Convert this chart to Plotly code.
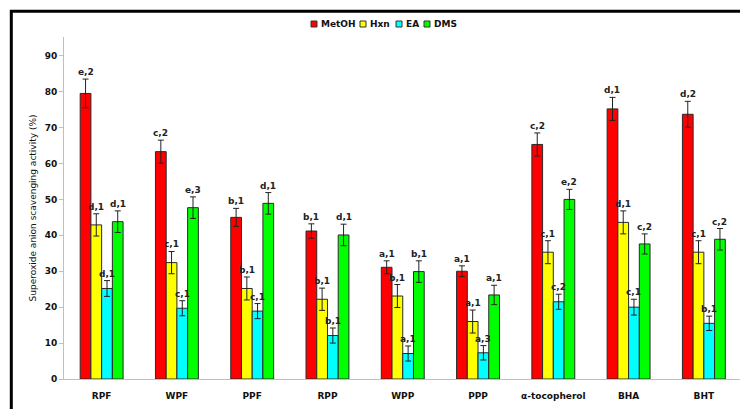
import plotly.graph_objects as go

categories = ["RPF", "WPF", "PPF", "RPP", "WPP", "PPP", "α-tocopherol", "BHA", "BHT"]
series_names = ["MetOH", "Hxn", "EA", "DMS"]
colors = ["#FF0000", "#FFFF00", "#00FFFF", "#00FF00"]

metoh = [79.5, 63.3, 45.0, 41.2, 31.1, 30.0, 65.3, 75.2, 73.7]
hxn = [42.9, 32.4, 25.2, 22.2, 23.1, 16.0, 35.3, 43.6, 35.3]
ea = [25.2, 19.7, 18.9, 12.1, 7.1, 7.3, 21.5, 20.0, 15.5]
dms = [43.8, 47.7, 48.9, 40.1, 29.9, 23.4, 50.0, 37.6, 38.9]

metoh_err = [4.0, 3.2, 2.5, 2.0, 1.8, 1.5, 3.2, 3.2, 3.6]
hxn_err = [3.1, 3.1, 3.2, 3.1, 3.2, 3.2, 3.2, 3.2, 3.2]
ea_err = [2.2, 2.1, 2.1, 2.1, 2.1, 2.0, 2.1, 2.2, 2.0]
dms_err = [3.0, 3.0, 3.0, 3.0, 3.0, 2.7, 2.8, 2.8, 3.0]

metoh_lbl = ["e,2", "c,2", "b,1", "b,1", "a,1", "a,1", "c,2", "d,1", "d,2"]
hxn_lbl = ["d,1", "c,1", "b,1", "b,1", "b,1", "a,1", "c,1", "d,1", "c,1"]
ea_lbl = ["d,1", "c,1", "c,1", "b,1", "a,1", "a,3", "c,2", "c,1", "b,1"]
dms_lbl = ["d,1", "e,3", "d,1", "d,1", "b,1", "a,1", "e,2", "c,2", "c,2"]

values = [metoh, hxn, ea, dms]
errors = [metoh_err, hxn_err, ea_err, dms_err]
labels = [metoh_lbl, hxn_lbl, ea_lbl, dms_lbl]

FONT = "DejaVu Sans"
W, H = 740, 409
L, R, T, B = 64, 0, 37, 30
PW, PH = W - L - R, H - T - B


def px_x(px):
    return (px - L) / PW


def px_y(py):
    return (H - B - py) / PH


fig = go.Figure()
for name, col, vals, errs in zip(series_names, colors, values, errors):
    fig.add_trace(go.Bar(
        x=categories, y=vals, name=name,
        marker=dict(color=col, line=dict(color="#2a2a2a", width=1)),
        error_y=dict(type="data", array=errs, visible=True,
                     color="#222222", thickness=1, width=3),
        showlegend=False,
    ))

annotations = []
bar_w = 0.57 * PW / 8.98 / 4
for i, (vals, errs, lbls) in enumerate(zip(values, errors, labels)):
    shift = (i - 1.5) * bar_w
    for c, v, e, t in zip(categories, vals, errs, lbls):
        annotations.append(dict(
            x=c, y=v + e, text=t, xref="x", yref="y",
            showarrow=False, yanchor="bottom", xanchor="center",
            xshift=shift, yshift=0,
            font=dict(family=FONT, size=9, color="#222222", weight="bold"),
        ))

# manual legend
shapes = []
leg_items = [(311, 319), (360, 368), (396, 404), (424, 432)]
for (sq, tx), name, col in zip(leg_items, series_names, colors):
    shapes.append(dict(type="rect", xref="paper", yref="paper",
                       x0=px_x(sq), x1=px_x(sq + 6), y0=px_y(27), y1=px_y(21),
                       fillcolor=col, line=dict(color="#333333", width=1)))
    annotations.append(dict(
        x=px_x(tx), y=px_y(24), xref="paper", yref="paper", text=name,
        showarrow=False, xanchor="left", yanchor="middle",
        font=dict(family=FONT, size=9, color="#111111", weight="bold"),
    ))

# outer frame (left and top visible)
shapes.append(dict(type="rect", xref="paper", yref="paper",
                   x0=px_x(11.3), x1=px_x(800), y0=px_y(460), y1=px_y(11.2),
                   line=dict(color="black", width=3), fillcolor="rgba(0,0,0,0)",
                   layer="above"))

fig.update_layout(
    width=W, height=H,
    margin=dict(l=L, r=R, t=T, b=B, pad=0),
    paper_bgcolor="white", plot_bgcolor="white",
    barmode="group", bargap=0.43, bargroupgap=0,
    font=dict(family=FONT, size=9, color="#111111"),
    xaxis=dict(
        range=[-0.5, 8.48], showgrid=False, showline=True,
        linecolor="#BFBFBF", linewidth=1, ticks="",
        tickfont=dict(family=FONT, size=9, color="#111111", weight="bold"),
        ticklabelstandoff=8,
    ),
    yaxis=dict(
        range=[0, PH / 3.592], tickvals=[0, 10, 20, 30, 40, 50, 60, 70, 80, 90],
        showgrid=False, zeroline=False, showline=True, linecolor="#BFBFBF",
        linewidth=1, ticks="outside", ticklen=4, tickcolor="#BFBFBF",
        tickfont=dict(family=FONT, size=9, color="#111111", weight="bold"),
        title=dict(text="Superoxide anion scavenging activity (%)",
                   font=dict(family=FONT, size=9, color="#111111"), standoff=6),
    ),
    shapes=shapes,
    annotations=annotations,
)

fig.write_html(
    "out.html",
    config={"displayModeBar": False},
    post_script="document.body.style.margin='0';document.body.style.overflow='hidden';",
)
